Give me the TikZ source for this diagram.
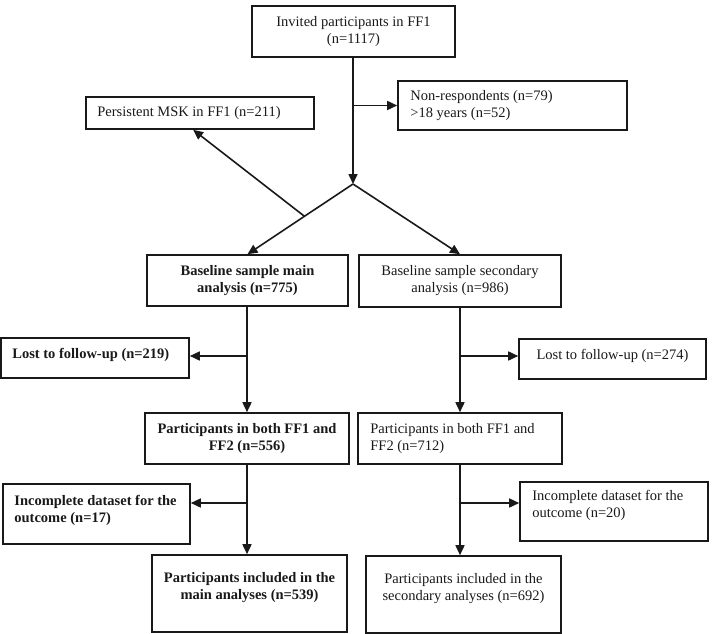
\documentclass[tikz,border=0pt]{standalone}
\usepackage{fontspec}
\setmainfont{Liberation Serif}
\usetikzlibrary{arrows.meta,calc}
\begin{document}
\begin{tikzpicture}[x=1pt,y=-1pt,
  box/.style={draw=black!90,line width=1.6pt,inner sep=0pt,rectangle},
  txt/.style={inner sep=0pt,font=\fontsize{14.5}{17}\selectfont,text=black!90},
  btxt/.style={txt,font=\fontsize{14.5}{17}\selectfont\bfseries},
  conn/.style={draw=black!90,line width=1.6pt},
  arr/.style={conn,-{Triangle[length=10pt,width=9pt]}}]
\useasboundingbox (0,0) rectangle (712,634);
% boxes
\node[box,minimum width=203pt,minimum height=51pt] (top) at (353.5,31.5) {};
\node[box,minimum width=229pt,minimum height=49pt] (nonresp) at (512.5,105.5) {};
\node[box,minimum width=228pt,minimum height=32pt] (persist) at (200,113) {};
\node[box,minimum width=201pt,minimum height=51pt] (basemain) at (247.5,280.5) {};
\node[box,minimum width=202pt,minimum height=52pt] (basesec) at (460,281) {};
\node[box,minimum width=188pt,minimum height=40pt] (lost219) at (95,358) {};
\node[box,minimum width=187pt,minimum height=40pt] (lost274) at (612.5,359) {};
\node[box,minimum width=204pt,minimum height=51pt] (partmain) at (247,438.5) {};
\node[box,minimum width=204pt,minimum height=51pt] (partsec) at (460,438.5) {};
\node[box,minimum width=187pt,minimum height=60pt] (inc17) at (96.5,514) {};
\node[box,minimum width=188pt,minimum height=59pt] (inc20) at (614,511.5) {};
\node[box,minimum width=195pt,minimum height=77pt] (finalmain) at (249.5,593.5) {};
\node[box,minimum width=195pt,minimum height=77pt] (finalsec) at (463.5,594.5) {};
% texts
\node[txt,align=center] (topT) at (top.center) {Invited participants in FF1\\(n=1117)};
\node[txt,align=left,anchor=west] (nonrespT) at ($(nonresp.west)+(13,0)$) {Non-respondents (n=79)\\>18 years (n=52)};
\node[txt,anchor=west] (persistT) at ($(persist.west)+(12,0)$) {Persistent MSK in FF1 (n=211)};
\node[btxt,align=center] (basemainT) at (basemain.center) {Baseline sample main\\analysis (n=775)};
\node[txt,align=center] (basesecT) at (basesec.center) {Baseline sample secondary\\analysis (n=986)};
\node[btxt,anchor=west] (lost219T) at ($(lost219.west)+(12,-3)$) {Lost to follow-up (n=219)};
\node[txt] (lost274T) at ($(lost274.center)+(0,-3)$) {Lost to follow-up (n=274)};
\node[btxt,align=center] (partmainT) at (partmain.center) {Participants in both FF1 and\\FF2 (n=556)};
\node[txt,align=left,anchor=west] (partsecT) at ($(partsec.west)+(13,0)$) {Participants in both FF1 and\\FF2 (n=712)};
\node[btxt,align=left,anchor=west] (inc17T) at ($(inc17.west)+(12,-4)$) {Incomplete dataset for the\\outcome (n=17)};
\node[txt,align=left,anchor=west] (inc20T) at ($(inc20.west)+(13,-6)$) {Incomplete dataset for the\\outcome (n=20)};
\node[btxt,align=center] (finalmainT) at ($(finalmain.center)+(0,-6)$) {Participants included in the\\main analyses (n=539)};
\node[txt,align=center] (finalsecT) at ($(finalsec.center)+(0,-6)$) {Participants included in the\\secondary analyses (n=692)};
% connectors
\coordinate (split) at (353,184);
\coordinate (bnon) at (353,105.5);
\coordinate (b219) at (247,356);
\coordinate (b274) at (460,356);
\coordinate (b17) at (247,503);
\coordinate (b20) at (460,503);
\draw[arr] (top.south -| split) -- (split);
\draw[arr] (bnon) -- (bnon -| nonresp.west);
\draw[arr] (split) -- (basemain.north);
\draw[arr] (split) -- (basesec.north);
\coordinate (pstart) at ($(split)!0.46!(basemain.north)$);
\draw[arr] (pstart) -- ($(persist.south west)!0.47!(persist.south east)$);
\draw[arr] (basemain.south -| b219) -- (partmain.north -| b219);
\draw[arr] (b219) -- (b219 -| lost219.east);
\draw[arr] (basesec.south -| b274) -- (partsec.north -| b274);
\draw[arr] (b274) -- (b274 -| lost274.west);
\draw[arr] (partmain.south -| b17) -- (finalmain.north -| b17);
\draw[arr] (b17) -- (b17 -| inc17.east);
\draw[arr] (partsec.south -| b20) -- (finalsec.north -| b20);
\draw[arr] (b20) -- (b20 -| inc20.west);
\end{tikzpicture}
\end{document}
